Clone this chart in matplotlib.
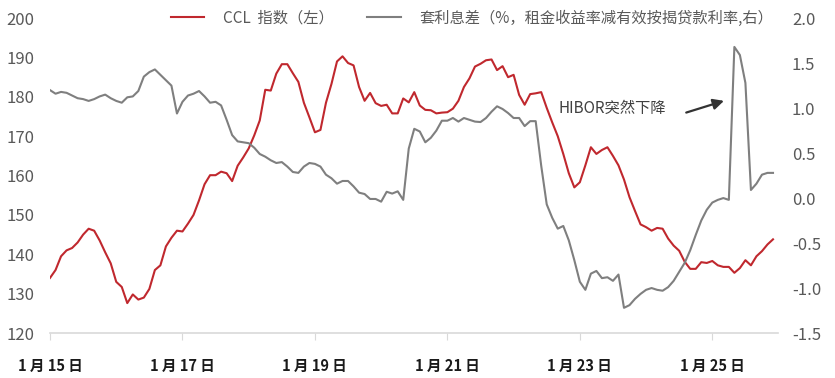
import matplotlib
matplotlib.use("Agg")
import matplotlib.pyplot as plt
import numpy as np

plt.rcParams['font.family'] = ['Noto Sans CJK SC', 'DejaVu Sans']

# =========================================================
# DATA
# =========================================================

tick_labels = ["1 月 15 日", "1 月 17 日", "1 月 19 日", "1 月 21 日", "1 月 23 日", "1 月 25 日"]

ccl_index = [
    134.0, 136.0, 139.5, 141.0, 141.6, 143.0, 145.0, 146.5, 146.0, 143.5,
    140.5, 137.7, 133.0, 131.7, 127.6, 129.8, 128.5, 129.0, 131.2, 136.0,
    137.2, 142.0, 144.2, 146.0, 145.8, 147.8, 150.0, 153.7, 157.8, 160.1,
    160.1, 161.0, 160.6, 158.6, 162.5, 164.6, 166.9, 170.2, 174.0, 181.8,
    181.6, 185.9, 188.3, 188.3, 186.0, 183.8, 178.5, 174.8, 171.0, 171.6,
    178.5, 183.3, 189.0, 190.3, 188.6, 188.0, 182.5, 179.0, 181.0, 178.4,
    177.7, 178.0, 175.8, 175.8, 179.6, 178.6, 181.2, 177.8, 176.7, 176.6,
    175.8, 176.0, 176.1, 177.0, 179.0, 182.5, 184.7, 187.7, 188.4, 189.3,
    189.5, 186.8, 187.8, 185.0, 185.6, 180.5, 178.0, 180.7, 180.9, 181.2,
    177.2, 173.5, 170.0, 165.5, 160.6, 157.0, 158.3, 162.6, 167.2, 165.5,
    166.5, 167.2, 165.0, 162.6, 159.0, 154.5, 151.0, 147.6, 146.9, 146.0,
    146.7, 146.5, 144.0, 142.2, 140.9, 138.1, 136.3, 136.3, 138.0, 137.8,
    138.3, 137.2, 136.8, 136.8, 135.3, 136.5, 138.5, 137.2, 139.5, 140.8,
    142.5, 143.8,
]

carry_spread = [
    1.20, 1.16, 1.18, 1.17, 1.14, 1.11, 1.10, 1.08, 1.10, 1.13,
    1.15, 1.11, 1.08, 1.06, 1.12, 1.13, 1.19, 1.35, 1.40, 1.43,
    1.37, 1.31, 1.25, 0.94, 1.07, 1.14, 1.16, 1.19, 1.13, 1.06,
    1.07, 1.03, 0.87, 0.70, 0.63, 0.62, 0.61, 0.56, 0.49, 0.46,
    0.42, 0.39, 0.40, 0.35, 0.29, 0.28, 0.35, 0.39, 0.38, 0.35,
    0.26, 0.22, 0.16, 0.19, 0.19, 0.13, 0.06, 0.045, -0.01, -0.01,
    -0.04, 0.07, 0.05, 0.075, -0.02, 0.55, 0.77, 0.74, 0.62, 0.67,
    0.75, 0.86, 0.86, 0.89, 0.85, 0.89, 0.87, 0.85, 0.845, 0.89,
    0.96, 1.02, 0.99, 0.945, 0.89, 0.89, 0.80, 0.855, 0.855, 0.36,
    -0.07, -0.22, -0.34, -0.31, -0.47, -0.69, -0.93, -1.02, -0.84, -0.81,
    -0.89, -0.88, -0.92, -0.85, -1.22, -1.19, -1.12, -1.065, -1.02, -1.00,
    -1.02, -1.03, -0.99, -0.92, -0.82, -0.72, -0.58, -0.41, -0.25, -0.13,
    -0.05, -0.02, 0.00, -0.02, 1.68, 1.59, 1.28, 0.09, 0.16, 0.26,
    0.28, 0.28,
]

months = np.arange(len(ccl_index))
tick_pos = np.arange(0, len(ccl_index), 24)

RED = "#C0282E"
GRAY = "#7F7F7F"
TXT = "#595959"

# =========================================================
# FIGURE
# =========================================================

fig = plt.figure(figsize=(8.35, 3.78), dpi=100)
ax = fig.add_axes([0.0599, 0.119, 0.8718, 0.833])
ax2 = ax.twinx()

l1, = ax.plot(months, ccl_index, color=RED, lw=1.5, zorder=3)
l2, = ax2.plot(months, carry_spread, color=GRAY, lw=1.5)

ax.set_xlim(0, 131.9)
ax.set_ylim(120, 200)
ax.set_yticks(np.arange(120, 201, 10))
ax2.set_ylim(-1.5, 2.0)
ax2.set_yticks(np.arange(-1.5, 2.01, 0.5))
ax2.set_yticklabels([f"{v:.1f}" for v in np.arange(-1.5, 2.01, 0.5)])

ax.set_xticks(tick_pos)
ax.set_xticklabels(tick_labels, fontsize=10.5, color="#1A1A1A",
                   fontweight="bold")

for a in (ax, ax2):
    for s in a.spines.values():
        s.set_visible(False)

ax.spines['bottom'].set_visible(True)
ax.spines['bottom'].set_color("#D9D9D9")
ax.spines['bottom'].set_linewidth(1.2)

ax.tick_params(axis='x', length=5, color="#D9D9D9", pad=13)
ax.tick_params(axis='y', length=0, labelsize=12, labelcolor=TXT, pad=11)
ax2.tick_params(axis='y', length=0, labelsize=12, labelcolor=TXT, pad=10)

# =========================================================
# ANNOTATION
# =========================================================

ax.annotate(
    "",
    xy=(122.6, 179.2),
    xytext=(114.8, 175.8),
    arrowprops=dict(arrowstyle="-|>", color="#333333", lw=1.6,
                    mutation_scale=16)
)

ax.text(101.8, 177.0, "HIBOR突然下降", fontsize=11, color="#404040",
        ha="center", va="center")

# =========================================================
# LEGEND
# =========================================================

fig.legend(
    [l1, l2],
    ["CCL  指数（左）", "套利息差（%，租金收益率减有效按揭贷款利率,右）"],
    loc="center",
    bbox_to_anchor=(0.565, 0.952),
    ncol=2,
    frameon=False,
    fontsize=11,
    labelcolor=TXT,
    handlelength=2.2,
    handletextpad=1.2,
    columnspacing=2.2,
)

fig.savefig("out.png", dpi=100)
